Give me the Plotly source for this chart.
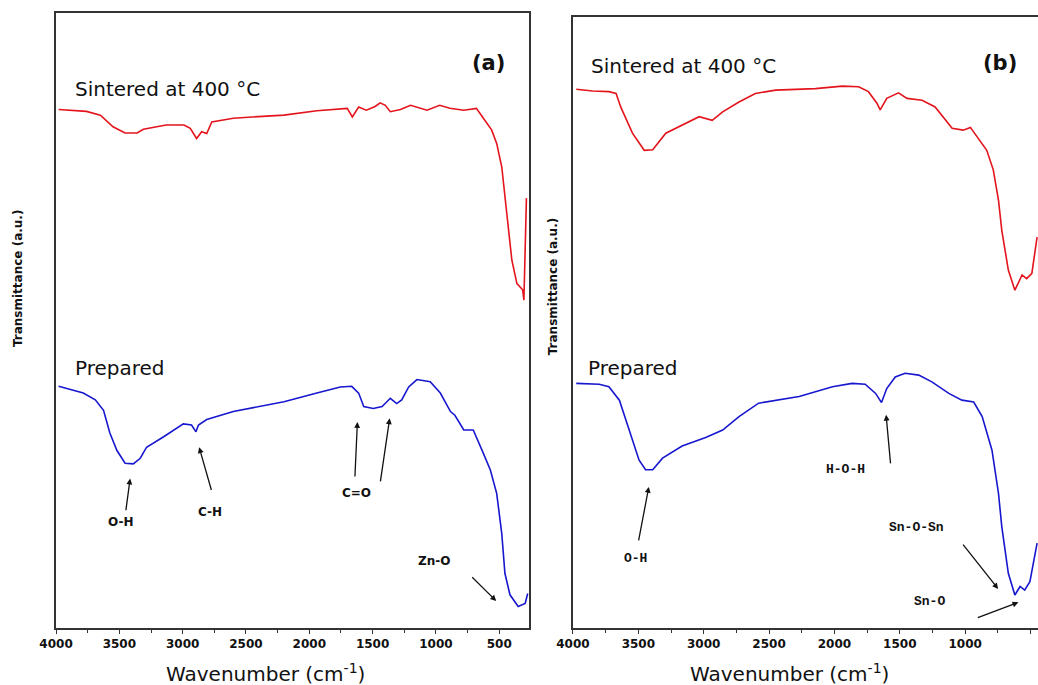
import plotly.graph_objects as go

# ---------------- data (wavenumber cm^-1, transmittance a.u.) ----------------
a_sint_w = [3980, 3760, 3650, 3550, 3455, 3360, 3310, 3130, 2990, 2940, 2890, 2850, 2810, 2770,
            2600, 2200, 1940, 1700, 1660, 1610, 1550, 1480, 1440, 1400, 1360, 1280, 1200, 1070,
            970, 890, 780, 680, 625, 560, 520, 480, 440, 400, 360, 315, 305, 295, 285]
a_sint_t = [84.3, 84.0, 83.4, 81.5, 80.5, 80.5, 81.1, 81.8, 81.8, 81.25, 79.6, 80.7, 80.4, 82.3,
            82.9, 83.4, 84.1, 84.5, 83.1, 84.7, 84.2, 84.8, 85.4, 85.0, 83.95, 84.3, 85.0, 84.2,
            85.0, 84.5, 84.2, 84.5, 82.9, 81.0, 78.8, 75.0, 67.4, 59.8, 56.0, 55.0, 53.3, 60.9, 69.9]

a_prep_w = [3980, 3785, 3690, 3625, 3575, 3520, 3455, 3390, 3335, 3285, 3150, 2995, 2930, 2895,
            2875, 2810, 2600, 2200, 1940, 1755, 1665, 1610, 1570, 1495, 1425, 1360, 1310, 1270,
            1215, 1150, 1045, 965, 885, 850, 780, 705, 625, 570, 520, 480, 455, 415, 350, 295, 275]
a_prep_t = [39.3, 38.2, 37.1, 35.4, 31.7, 28.9, 26.8, 26.7, 27.6, 29.4, 31.1, 33.2, 33.0, 31.9,
            33.0, 33.9, 35.2, 36.8, 38.2, 39.2, 39.3, 38.2, 36.0, 35.7, 36.0, 37.35, 36.5, 37.1,
            39.2, 40.4, 40.05, 38.2, 35.2, 34.6, 32.2, 32.2, 28.4, 25.7, 21.9, 15.4, 8.9, 5.4, 3.5, 4.0, 5.6]

b_sint_w = [3975, 3850, 3725, 3670, 3635, 3545, 3455, 3390, 3290, 3165, 3035, 2935, 2855, 2730,
            2605, 2450, 2145, 1940, 1815, 1740, 1675, 1650, 1600, 1510, 1445, 1330, 1230, 1100,
            1015, 960, 910, 835, 785, 745, 720, 670, 620, 565, 530, 490, 450]
b_sint_t = [88.2, 87.9, 87.8, 87.5, 85.3, 81.0, 78.2, 78.3, 81.0, 82.3, 83.7, 83.1, 84.5, 86.1,
            87.5, 88.05, 88.3, 88.7, 88.6, 87.8, 85.9, 84.8, 86.7, 87.6, 86.7, 86.4, 85.3, 81.8,
            81.5, 81.95, 80.4, 78.2, 75.0, 70.0, 65.1, 58.6, 55.3, 57.8, 57.2, 58.05, 64.0]

b_prep_w = [3975, 3800, 3725, 3645, 3570, 3495, 3445, 3390, 3315, 3165, 2985, 2855, 2730, 2580,
            2270, 2015, 1865, 1765, 1685, 1640, 1600, 1535, 1460, 1355, 1255, 1125, 1025, 935,
            870, 795, 745, 720, 670, 620, 580, 545, 505, 450]
b_prep_t = [40.05, 39.9, 39.5, 37.3, 32.4, 27.5, 25.9, 25.9, 27.8, 29.8, 31.2, 32.4, 34.6, 36.8,
            37.9, 39.5, 40.05, 39.9, 38.4, 36.9, 39.2, 41.1, 41.7, 41.4, 40.3, 38.4, 37.3, 37.0,
            34.6, 29.1, 22.0, 16.6, 8.95, 5.4, 6.8, 6.2, 7.6, 13.9]

tick_vals = [4000, 3500, 3000, 2500, 2000, 1500, 1000, 500]
tick_text = ["4000", "3500", "3000", "2500", "2000", "1500", "1000", "500"]

RED = "#e3141c"
BLUE = "#1717cf"
INK = "#111111"
AXC = "#333333"

fig = go.Figure()
fig.add_trace(go.Scatter(x=a_sint_w, y=a_sint_t, mode="lines", line=dict(color=RED, width=1.6),
                         xaxis="x", yaxis="y", showlegend=False))
fig.add_trace(go.Scatter(x=a_prep_w, y=a_prep_t, mode="lines", line=dict(color=BLUE, width=1.6),
                         xaxis="x", yaxis="y", showlegend=False))
fig.add_trace(go.Scatter(x=b_sint_w, y=b_sint_t, mode="lines", line=dict(color=RED, width=1.6),
                         xaxis="x2", yaxis="y2", showlegend=False))
fig.add_trace(go.Scatter(x=b_prep_w, y=b_prep_t, mode="lines", line=dict(color=BLUE, width=1.6),
                         xaxis="x2", yaxis="y2", showlegend=False))

xcommon = dict(tickvals=tick_vals, ticktext=tick_text, ticks="outside", ticklen=4, tickwidth=1.2,
               tickcolor=AXC, showgrid=False, zeroline=False, showline=True, linecolor=AXC,
               linewidth=1.6, automargin=False,
               tickfont=dict(family="DejaVu Sans", size=12, color=INK, weight="bold"),
               minor=dict(dtick=500, tick0=250, ticks="outside", ticklen=3, tickcolor=AXC))
ycommon = dict(showticklabels=False, ticks="", showgrid=False, zeroline=False, showline=True,
               linecolor=AXC, linewidth=1.6, range=[0, 100], automargin=False)

fig.update_layout(
    width=1038, height=685, margin=dict(l=0, r=0, t=0, b=0, autoexpand=False),
    showlegend=False,
    paper_bgcolor="white", plot_bgcolor="white",
    xaxis=dict(domain=[0.054, 0.5096], range=[4000, 265], anchor="y", mirror=True, **xcommon),
    yaxis=dict(domain=[0.0832, 0.981], anchor="x", mirror=True, **ycommon),
    xaxis2=dict(domain=[0.552, 1.0], range=[4000, 443], anchor="y2", mirror=True, **xcommon),
    yaxis2=dict(domain=[0.0832, 0.975], anchor="x2", mirror=False, **ycommon),
)

ann = []
big = dict(family="DejaVu Sans", size=20, color=INK)
lab_a = dict(family="DejaVu Sans", size=12, color=INK, weight="bold")
lab_b = dict(family="Liberation Mono", size=13, color=INK, weight="bold")

def txt(x, y, s, font, xr, yr, xanchor="center"):
    ann.append(dict(x=x, y=y, xref=xr, yref=yr, text=s, showarrow=False, font=font,
                    xanchor=xanchor, yanchor="middle"))

def arrow(x0, y0, x1, y1, xr, yr):
    ann.append(dict(x=x1, y=y1, ax=x0, ay=y0, xref=xr, yref=yr, axref=xr, ayref=yr, text="",
                    showarrow=True, arrowhead=2, arrowsize=0.9, arrowwidth=1.3, arrowcolor=INK))

# panel (a)
txt(3866, 87.6, "Sintered at 400 °C", big, "x", "y", "left")
txt(587, 91.9, "(a)", dict(family="DejaVu Sans", size=21, color=INK, weight="bold"), "x", "y")
txt(3866, 42.3, "Prepared", big, "x", "y", "left")
txt(3490, 17.2, "O-H", lab_a, "x", "y")
arrow(3450, 18.9, 3415, 24.3, "x", "y")
txt(2785, 18.9, "C-H", lab_a, "x", "y")
arrow(2770, 22.2, 2870, 29.4, "x", "y")
txt(1630, 21.95, "C=O", lab_a, "x", "y")
arrow(1640, 24.4, 1620, 33.5, "x", "y")
arrow(1440, 23.6, 1365, 34.1, "x", "y")
txt(1015, 10.9, "Zn-O", lab_a, "x", "y")
arrow(725, 8.5, 524, 4.4, "x", "y")

# panel (b)
txt(3878, 92.0, "Sintered at 400 °C", big, "x2", "y2", "left")
txt(733, 92.5, "(b)", dict(family="DejaVu Sans", size=21, color=INK, weight="bold"), "x2", "y2")
txt(3900, 42.55, "Prepared", big, "x2", "y2", "left")
txt(3519, 11.3, "O-H", lab_b, "x2", "y2")
arrow(3500, 14.1, 3420, 23.1, "x2", "y2")
txt(1915, 25.9, "H-O-H", lab_b, "x2", "y2")
arrow(1570, 26.7, 1605, 34.9, "x2", "y2")
txt(1375, 16.4, "Sn-O-Sn", lab_b, "x2", "y2")
arrow(1025, 13.9, 748, 6.4, "x2", "y2")
txt(1275, 4.4, "Sn-O", lab_b, "x2", "y2")
arrow(915, 1.6, 593, 4.2, "x2", "y2")

# axis titles
ytfont = dict(family="DejaVu Sans", size=12, color=INK, weight="bold")
ann.append(dict(x=0.0173, y=0.594, xref="paper", yref="paper", text="Transmittance (a.u.)",
                textangle=-90, showarrow=False, font=ytfont, xanchor="center", yanchor="middle"))
ann.append(dict(x=0.533, y=0.581, xref="paper", yref="paper", text="Transmittance (a.u.)",
                textangle=-90, showarrow=False, font=ytfont, xanchor="center", yanchor="middle"))
xtfont = dict(family="DejaVu Sans", size=20, color=INK)
ann.append(dict(x=0.256, y=0.0175, xref="paper", yref="paper", text="Wavenumber (cm<sup>-1</sup>)",
                showarrow=False, font=xtfont, xanchor="center", yanchor="middle"))
ann.append(dict(x=0.761, y=0.0175, xref="paper", yref="paper", text="Wavenumber (cm<sup>-1</sup>)",
                showarrow=False, font=xtfont, xanchor="center", yanchor="middle"))

fig.update_layout(annotations=ann)
fig.write_html("out.html")
